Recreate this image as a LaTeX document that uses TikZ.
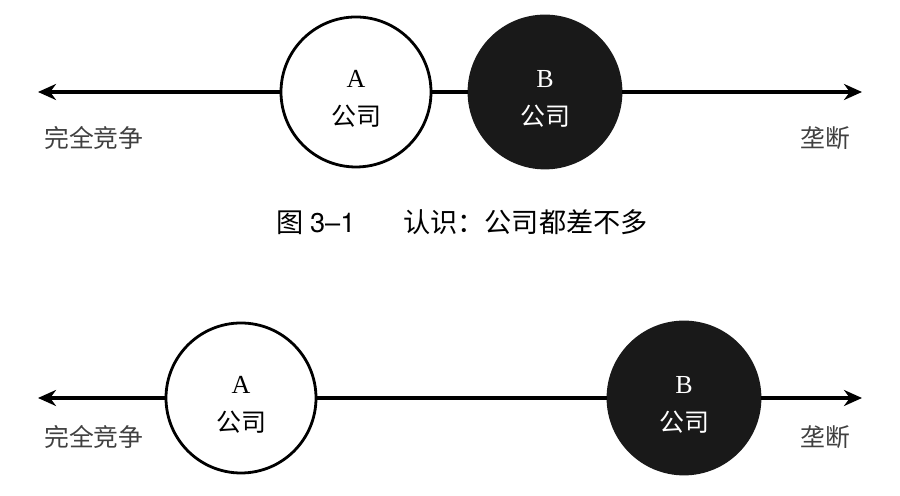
\documentclass[tikz,border=0pt]{standalone}
\usepackage{fontspec}
\setmainfont{Liberation Serif}
\newfontfamily\cjk{Noto Sans CJK SC}
\newfontfamily\capfont{TeX Gyre Heros}
\usetikzlibrary{arrows.meta}
\tikzset{
  axis/.style={line width=2pt, -{Stealth[length=9pt,width=8pt]}},
  firmA/.style={circle, draw, line width=1.4pt, fill=white, minimum size=75pt, inner sep=0pt},
  firmB/.style={circle, draw=black!90, line width=1.4pt, fill=black!90, text=white, minimum size=76pt, inner sep=0pt},
  endlabel/.style={font=\cjk\fontsize{12.4pt}{14pt}\selectfont, text=black!75},
}
\newcommand{\firmtext}[1]{\rule{0pt}{15pt}\fontsize{13pt}{14pt}\selectfont #1\\[7pt]{\cjk\fontsize{12.5pt}{14pt}\selectfont 公司}}
\begin{document}
\begin{tikzpicture}[x=0.5pt, y=0.5pt]
  \useasboundingbox (0,0) rectangle (900,496);

  % upper picture: the two firms are close together
  \coordinate (tL) at (38,404);
  \coordinate (tR) at (862,404);
  \node[firmA, align=center] (tA) at (356,404) {\firmtext{A}};
  \node[firmB, align=center] (tB) at (545,404) {\firmtext{B}};
  \draw[axis] (tA.west) -- (tL);
  \draw[line width=2pt] (tA.east) -- (tB.west);
  \draw[axis] (tB.east) -- (tR);
  \node[endlabel] (tcomp) at (94,358) {完全竞争};
  \node[endlabel] (tmono) at (825,358) {垄断};

  \node (cap) at (462,274) {\fontsize{13.6pt}{15pt}\selectfont{\cjk 图} {\capfont 3–1}\hspace{1.75em}{\cjk 认识：公司都差不多}};

  % lower picture: the two firms are far apart
  \coordinate (bL) at (38,98);
  \coordinate (bR) at (862,98);
  \node[firmA, align=center] (bA) at (241,98) {\firmtext{A}};
  \node[firmB, align=center] (bB) at (684,98) {\firmtext{B}};
  \draw[axis] (bA.west) -- (bL);
  \draw[line width=2pt] (bA.east) -- (bB.west);
  \draw[axis] (bB.east) -- (bR);
  \node[endlabel] (bcomp) at (94,59) {完全竞争};
  \node[endlabel] (bmono) at (825,59) {垄断};
\end{tikzpicture}
\end{document}
